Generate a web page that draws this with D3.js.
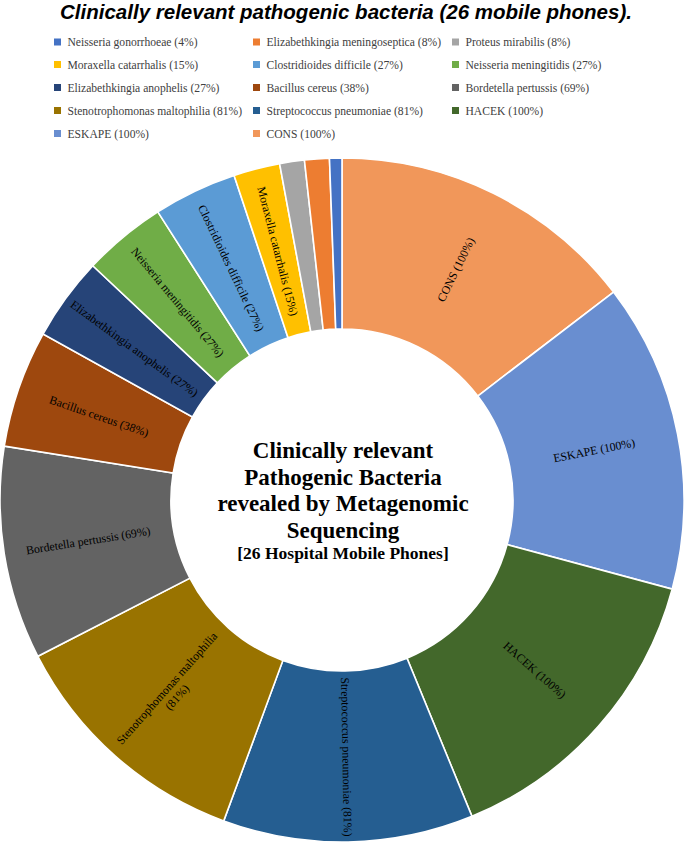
<!DOCTYPE html>
<html><head><meta charset="utf-8">
<script src="https://cdn.jsdelivr.net/npm/d3@7"></script>
<style>body{margin:0;background:#fff}svg{display:block}</style>
</head><body>
<svg id="chart" width="685" height="844"></svg>
<script>
// Legend order (as in the reference)
const categories = ["Neisseria gonorrhoeae","Elizabethkingia meningoseptica","Proteus mirabilis",
  "Moraxella catarrhalis","Clostridioides difficile","Neisseria meningitidis",
  "Elizabethkingia anophelis","Bacillus cereus","Bordetella pertussis",
  "Stenotrophomonas maltophilia","Streptococcus pneumoniae","HACEK","ESKAPE","CONS"];
const values = [4,8,8,15,27,27,27,38,69,81,81,100,100,100];
const colors = ["#4472C4","#ED7D31","#A5A5A5","#FFC000","#5B9BD5","#70AD47",
  "#264478","#9E480E","#636363","#997300","#255E91","#43682B","#698ED0","#F1975A"];
const showLabel = [false,false,false,true,true,true,true,true,true,true,true,true,true,true];
const titleText = "Clinically relevant pathogenic bacteria (26 mobile phones).";
const centerLines = ["Clinically relevant","Pathogenic Bacteria","revealed by Metagenomic","Sequencing"];
const centerSub = "[26 Hospital Mobile Phones]";

const svg = d3.select("#chart");
const W = 685;

svg.append("text").attr("x", 346).attr("y", 19).attr("text-anchor","middle")
  .attr("font-family","'Liberation Sans',Arial,sans-serif").attr("font-weight","bold")
  .attr("font-style","italic").attr("font-size",20.5).text(titleText);

// legend
const legX = [54, 253, 452];
const legY = [42, 64.5, 87.5, 110.5, 133.5];
const leg = svg.append("g");
categories.forEach((c,i)=>{
  const col = i % 3, row = Math.floor(i/3);
  const g = leg.append("g").attr("transform",`translate(${legX[col]},${legY[row]})`);
  g.append("rect").attr("x",0).attr("y",-3.5).attr("width",7).attr("height",7).attr("fill",colors[i]);
  g.append("text").attr("x",13.5).attr("y",4).attr("font-family","'Liberation Serif','Times New Roman',serif")
    .attr("font-size",11.6).attr("fill","#404040").text(`${c} (${values[i]}%)`);
});

// donut
const cx = 342, cy = 500, R = 342, r0 = 171;
const idx = d3.range(categories.length).reverse(); // CONS first, clockwise
const pie = d3.pie().sort(null).value(i=>values[i]);
const arcs = pie(idx);
const arc = d3.arc().innerRadius(r0).outerRadius(R);
const labelArc = d3.arc().innerRadius(257).outerRadius(257);
const g = svg.append("g").attr("transform",`translate(${cx},${cy})`);
g.selectAll("path").data(arcs).enter().append("path")
  .attr("d",arc).attr("fill",d=>colors[d.data]).attr("stroke","#fff").attr("stroke-width",1.6);

g.selectAll("text.lab").data(arcs.filter(d=>showLabel[d.data])).enter().append("text")
  .attr("class","lab")
  .attr("font-family","'Liberation Serif','Times New Roman',serif").attr("font-size",11.8).attr("fill","#000")
  .attr("text-anchor","middle")
  .attr("transform",d=>{
    const [x,y] = labelArc.centroid(d);
    const mid = (d.startAngle+d.endAngle)/2*180/Math.PI;
    let rot = mid - 90;
    if (mid > 180) rot -= 180;
    return `translate(${x},${y}) rotate(${rot})`;
  })
  .each(function(d){
    const t = d3.select(this);
    const name = categories[d.data], lab = `${name} (${values[d.data]}%)`;
    if (name === "Stenotrophomonas maltophilia") {
      t.append("tspan").attr("x",0).attr("dy","-0.2em").text(name);
      t.append("tspan").attr("x",0).attr("dy","1.15em").text(`(${values[d.data]}%)`);
    } else {
      t.append("tspan").attr("x",0).attr("dy","0.35em").text(lab);
    }
  });

// center text
const ct = g.append("text").attr("text-anchor","middle")
  .attr("font-family","'Liberation Serif','Times New Roman',serif").attr("font-weight","bold").attr("fill","#000");
centerLines.forEach((l,i)=>{
  ct.append("tspan").attr("x",1).attr("y",-42 + i*26.7).attr("font-size",23).text(l);
});
ct.append("tspan").attr("x",1).attr("y",59).attr("font-size",17.5).text(centerSub);
</script>
</body></html>
